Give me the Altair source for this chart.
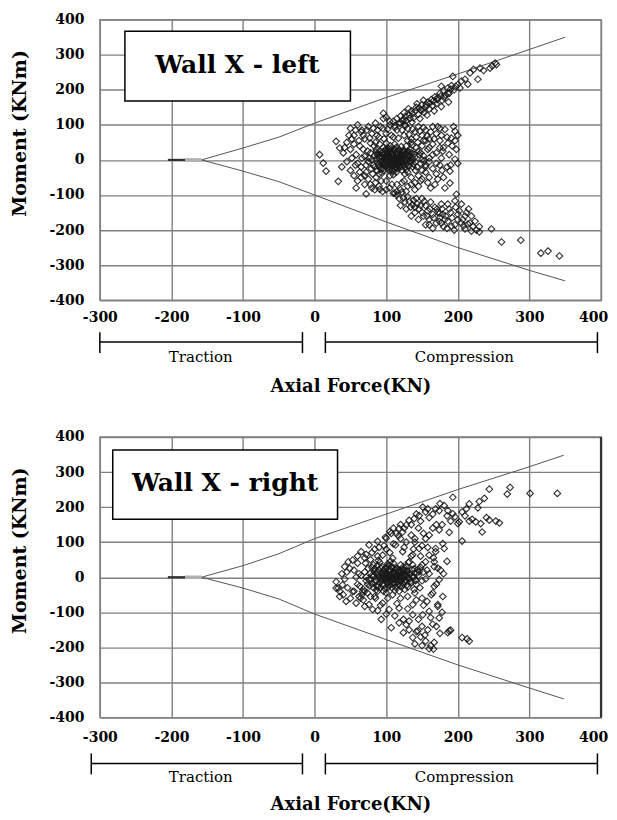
import altair as alt
import pandas as pd

# ---------------- data ----------------
X_TICKS = [-300, -200, -100, 0, 100, 200, 300, 400]
Y_TICKS = [-400, -300, -200, -100, 0, 100, 200, 300, 400]

# interaction-diagram envelope (upper / lower branch)
ENV_X_LEFT = [-158, -100, -50, 0, 100, 200, 300, 350]
ENV_UP_LEFT = [0, 34, 65, 105, 178, 245, 315, 350]
ENV_LO_LEFT = [0, -32, -62, -100, -177, -250, -315, -345]
ENV_X_RIGHT = [-158, -100, -50, 0, 100, 200, 300, 348]
ENV_UP_RIGHT = [0, 33, 67, 110, 180, 250, 315, 348]
ENV_LO_RIGHT = [0, -31, -62, -105, -178, -250, -316, -347]
STUB_DARK = [-205, -181]
STUB_LIGHT = [-181, -158]
RIGHT_FRAME_EDGE = [400]

# Wall X - left : (axial force, moment)
LEFT_CORE = [
    (70, 10), (75, -5), (78, 20), (80, 0), (82, -15), (84, 12), (86, 30), (88, -8), (90, 5), (92, -25),
    (93, 18), (95, -2), (96, 35), (98, 8), (99, -18), (100, 0), (101, 22), (102, -10), (103, 12), (104, -30),
    (105, 3), (106, 40), (107, -6), (108, 15), (109, -20), (110, 5), (111, 28), (112, -12), (113, 8), (114, -35),
    (115, 0), (116, 18), (117, -8), (118, 30), (119, -22), (120, 6), (121, -4), (122, 14), (124, -15), (125, 25),
    (126, 2), (128, -28), (130, 10), (132, -5), (135, 20), (138, -12), (140, 8), (143, -20), (146, 15), (150, 0),
    (74, 25), (79, -25), (83, 40), (87, -30), (91, 45), (94, -38), (97, 15), (100, -5), (103, 32), (106, -15),
    (109, 10), (112, 45), (115, -25), (118, 2), (121, 38), (124, -2), (127, 18), (131, -18), (134, 30), (137, 0),
    (141, -30), (145, 25), (148, -10), (152, 12), (155, -20), (97, -12), (101, 8), (104, -4), (107, 26), (111, -2),
    (113, 20), (116, -14), (119, 12), (122, -30), (100, 48), (110, -42), (90, -40), (85, 50), (128, 40), (65, -20),
    (68, 30), (72, -35), (160, 5), (158, 30), (95, 22), (108, -28), (114, 36), (102, -22), (92, 12), (120, 22),
    (126, -40), (88, 18), (76, 5), (81, -40), (105, -45), (130, -35), (136, 42), (142, 35), (148, 20), (153, -2),
]
LEFT_CORE_DENSE = [
    (86, 2), (88, 12), (89, -14), (91, 25), (92, -6), (94, 8), (95, -24), (96, 16), (97, -8), (98, 28),
    (99, 4), (100, -14), (101, 14), (102, -2), (103, 24), (104, -18), (105, 10), (106, -8), (107, 2), (108, 20),
    (109, -12), (110, 14), (111, -26), (112, 4), (113, -6), (114, 16), (115, -12), (116, 6), (117, 24), (118, -16),
    (119, -2), (120, 16), (121, -18), (122, 4), (123, 26), (124, -8), (125, 10), (126, -20), (127, 4), (128, 18),
    (129, -10), (130, 24), (131, 2), (132, -16), (133, 12), (134, -4), (136, 8), (137, -20), (139, 16), (141, -6),
    (106, 32), (110, -32), (100, 30), (114, -20), (118, 10), (96, -30), (104, -26), (112, 30), (122, -10), (90, -18),
    (84, -20), (86, 22), (94, -12), (102, 6), (108, -2), (116, -6), (120, -8), (124, 20), (128, -2), (132, 22),
]
LEFT_CLOUD = [
    (50, 90), (55, 70), (60, 100), (65, 80), (70, 60), (75, 95), (80, 75), (85, 105), (90, 65), (95, 90),
    (100, 75), (105, 100), (110, 65), (115, 85), (120, 105), (125, 70), (130, 90), (135, 60), (140, 80), (145, 95),
    (150, 70), (155, 85), (160, 60), (165, 95), (170, 75), (175, 90), (45, 50), (50, 30), (55, 45), (58, 15),
    (60, -10), (62, 55), (40, 20), (45, -5), (50, -30), (55, -45), (60, -60), (65, -50), (70, -70), (75, -55),
    (80, -80), (85, -65), (90, -75), (95, -90), (100, -60), (105, -80), (110, -95), (115, -70), (120, -85), (125, -60),
    (130, -75), (135, -50), (140, -65), (145, -45), (150, -55), (155, -35), (160, -50), (165, -25), (170, -40), (175, -15),
    (170, 20), (165, 45), (160, -5), (155, 55), (150, 40), (148, -60), (175, 55), (180, 35), (168, -70), (130, 55),
    (135, 50), (88, 85), (78, 48), (72, -15), (66, 5), (7, 15), (12, -9), (16, -32), (33, -61), (30, 53),
    (35, 34), (72, -97), (91, -84), (96, 133), (96, 118), (125, 115),
    (52, 60), (57, 85), (63, 40), (68, 70), (73, 85), (77, 62), (82, 90), (87, 70), (92, 95), (97, 60),
    (102, 88), (107, 70), (112, 92), (117, 62), (122, 85), (127, 98), (132, 72), (137, 88), (142, 65), (147, 82),
    (152, 92), (157, 68), (162, 80), (167, 60), (172, 95), (177, 70), (160, 35), (165, 15), (170, -10), (155, -15),
    (150, -30), (145, -75), (140, -85), (135, -70), (128, -90), (122, -65), (115, -90), (108, -70), (100, -85), (93, -60),
    (86, -50), (78, -70), (70, -45), (63, -35), (57, -15), (52, 5), (48, 70), (42, 35), (38, -20), (58, -80),
    (175, 35), (178, -30), (172, -55), (162, -80), (185, -20), (152, 55), (158, -65), (144, 50), (66, 85), (84, -85),
]
LEFT_BAND = [
    (182, 87), (196, 82), (191, 62), (186, 48), (198, 30), (179, 25), (177, 5), (196, 2), (189, -32), (189, -66),
    (182, -80), (198, -98), (200, 70), (194, 95), (188, 15), (200, -10), (185, 65), (192, 40), (180, -50), (196, 55),
    (190, -15),
]
LEFT_ARM = [
    (110, 110), (115, 118), (120, 125), (118, 105), (125, 135), (128, 112), (132, 128), (135, 140), (138, 120), (142, 150),
    (145, 130), (148, 142), (150, 158), (153, 135), (155, 150), (158, 165), (160, 145), (163, 172), (165, 155), (168, 180),
    (170, 160), (172, 178), (175, 190), (178, 170), (180, 198), (183, 185), (186, 205), (188, 190), (191, 212), (195, 200),
    (200, 215), (205, 225), (177, 210), (193, 238), (217, 248), (231, 262), (252, 276), (214, 216), (228, 230), (254, 272),
    (248, 268), (222, 258), (100, 122), (105, 110), (112, 98),
    (122, 112), (127, 125), (133, 118), (137, 132), (141, 140), (146, 148), (151, 144), (156, 158), (161, 162), (166, 168),
    (171, 172), (176, 182), (181, 178), (186, 190), (190, 202), (197, 210), (203, 205), (210, 230), (236, 255), (245, 262),
    (126, 100), (136, 108), (147, 118), (157, 128), (167, 140), (177, 152), (187, 165), (152, 170), (143, 160), (131, 146),
]
LEFT_LOWER = [
    (112, -95), (118, -110), (122, -92), (126, -120), (130, -105), (134, -135), (138, -115), (140, -150), (143, -125), (146, -140),
    (150, -110), (152, -160), (155, -130), (158, -145), (160, -170), (162, -120), (165, -155), (168, -135), (170, -180), (172, -150),
    (175, -165), (178, -140), (180, -190), (183, -160), (186, -175), (190, -150), (128, -140), (135, -160), (145, -170), (155, -185),
    (120, -130), (165, -195), (177, -126), (186, -126), (196, -117), (205, -126), (175, -152), (200, -155), (210, -160), (219, -160),
    (224, -175), (205, -180), (214, -183), (177, -180), (191, -189), (210, -197), (219, -203), (200, -170), (215, -140), (195, -200),
    (230, -190), (247, -197), (261, -234), (288, -229), (316, -266), (326, -260), (342, -274),
    (115, -100), (124, -108), (132, -118), (137, -128), (142, -110), (148, -130), (153, -118), (157, -160), (161, -140), (166, -165),
    (171, -140), (174, -175), (179, -155), (182, -170), (188, -140), (192, -165), (197, -135), (202, -145), (207, -170), (212, -150),
    (217, -180), (221, -190), (226, -200), (160, -185), (150, -150), (140, -135), (185, -195), (196, -185), (208, -188), (230, -205),
]

# Wall X - right : (axial force, moment)
RIGHT_CORE = [
    (60, -20), (65, 5), (68, -35), (70, 15), (72, -10), (75, 25), (77, -25), (80, 5), (82, 35), (84, -15),
    (86, 10), (88, -40), (90, 20), (92, -5), (94, 30), (95, -20), (97, 8), (98, -32), (100, 15), (101, -8),
    (102, 38), (104, 0), (105, -22), (106, 20), (108, -5), (109, 28), (110, -15), (111, 10), (112, -38), (114, 2),
    (115, 25), (116, -12), (118, 12), (119, -25), (120, 35), (122, 0), (123, -18), (125, 18), (127, -8), (128, 30),
    (130, -28), (132, 8), (134, -12), (136, 22), (138, -2), (140, 12), (142, -20), (145, 5), (148, 28), (150, -10),
    (62, 10), (66, -50), (71, 40), (74, -45), (79, -5), (83, 18), (87, -25), (91, 42), (93, -12), (96, 2),
    (99, 22), (103, -15), (107, 8), (110, 40), (113, -28), (117, 18), (121, -8), (124, 30), (126, -35), (129, 15),
    (133, -5), (137, 35), (141, -10), (144, 22), (147, -30), (152, 15), (155, -5), (78, -55), (85, -60), (58, 0),
    (55, -40), (64, -60), (89, 48), (100, -45), (106, 45), (118, -40), (131, 42), (139, -35), (157, 20), (95, 10),
    (103, 5), (108, -30), (112, 22), (116, -2), (101, 30), (97, -2), (119, 5), (92, -30), (126, 5), (86, -8),
]
RIGHT_CORE_DENSE = [
    (76, -6), (78, 12), (80, -18), (82, 4), (84, 24), (85, -10), (87, 16), (88, -28), (89, 6), (91, -16),
    (92, 26), (93, 0), (95, -8), (96, 20), (97, -22), (98, 12), (99, -4), (100, 26), (101, -16), (102, 8),
    (103, -28), (104, 18), (105, -2), (106, -12), (107, 28), (108, 6), (109, -20), (110, 16), (111, -6), (112, 10),
    (113, -16), (114, 24), (115, -4), (116, 8), (117, -22), (118, 20), (119, 0), (120, -12), (121, 14), (122, -26),
    (123, 6), (124, -4), (125, 22), (126, -14), (128, 8), (129, -22), (130, 18), (131, -2), (133, 10), (135, -16),
    (137, 4), (139, 24), (141, -8), (143, 12), (94, 12), (100, 0), (106, 4), (112, -2), (118, -8), (124, 12),
    (90, -2), (86, -36), (82, -30), (74, -20), (70, -40), (72, 0), (80, 28), (88, 34), (96, -40), (104, 34),
]
RIGHT_CLOUD = [
    (30, -13), (33, -31), (40, -50), (47, 44), (49, 25), (30, -31), (35, -55), (44, -69), (58, -74), (70, -83),
    (81, -92), (93, -120), (107, -144), (53, 49), (65, 73), (76, 92), (88, 102), (100, 111), (107, 125), (118, 139),
    (128, 149), (113, 92), (123, 73), (109, 54), (95, 63), (132, 44), (146, 82), (160, 63), (169, 82), (179, 96),
    (155, 44), (167, 30), (123, 21), (146, 16), (39, -22), (53, -41), (67, -41), (84, -55), (95, -74), (104, -92),
    (109, -50), (118, -88), (137, -78), (151, -107), (165, -134), (174, -116), (172, -78), (157, -69), (160, -97), (137, -107),
    (124, -120), (132, -125), (144, -153), (124, -158), (137, -172), (155, -182), (160, -204), (162, -195), (167, -186), (188, -153),
    (45, 15), (42, -5), (60, 60), (80, 70), (135, 60), (150, 35), (160, 10), (140, -45), (150, -60), (165, -45),
    (120, -60), (130, -55), (100, 80), (90, 85), (70, 55), (140, 100), (155, 110), (150, -140), (175, -160), (112, -110),
    (35, -40), (38, 10), (42, 30), (46, -30), (50, -60), (55, 20), (60, 40), (63, -25), (68, -65), (72, 65),
    (78, 50), (84, 80), (88, 60), (92, -80), (97, 90), (102, -60), (105, 70), (110, 95), (115, -75), (120, 110),
    (125, 85), (130, -90), (135, 120), (138, 80), (142, -65), (148, 60), (152, -80), (158, 85), (163, -50), (166, 55),
    (170, -20), (176, 20), (162, -115), (145, -120), (128, -135), (118, -130), (100, -105), (88, -95), (76, -78), (62, -55),
    (148, -170), (140, -190), (132, -150), (158, -150), (170, -140), (178, -100), (154, -165), (166, -205), (150, -195), (142, -155),
]
RIGHT_BAND = [
    (181, 82), (169, 73), (167, 44), (172, 26), (174, -7), (167, -26), (179, -55), (172, -83), (186, -158), (190, -151),
    (206, -172), (213, -176), (216, -182), (180, 10), (185, 45),
]
RIGHT_ARM = [
    (99, 114), (114, 125), (123, 129), (132, 162), (139, 167), (146, 176), (151, 200), (155, 186), (169, 195), (181, 204),
    (193, 228), (216, 209), (230, 216), (237, 225), (244, 251), (269, 237), (273, 256), (301, 239), (339, 239), (174, 190),
    (186, 190), (193, 181), (206, 186), (202, 158), (216, 160), (225, 158), (232, 153), (244, 163), (253, 160), (258, 155),
    (234, 129), (206, 103), (200, 153), (174, 135), (188, 128), (137, 64), (150, 90), (160, 120), (170, 150), (128, 100),
    (145, 140), (160, 170), (120, 150), (110, 140), (190, 160),
    (105, 130), (117, 118), (125, 140), (135, 150), (142, 180), (148, 160), (158, 195), (165, 180), (175, 210), (185, 175),
    (196, 172), (210, 175), (220, 165), (240, 170), (228, 198), (212, 195), (178, 150), (165, 140), (152, 125), (140, 110),
]

# label boxes: x0, x1, m0, m1, text x, text m
BOX_LEFT = (-265, 50, 168, 367, -108, 270)
BOX_RIGHT = (-282, 32, 165, 363, -125, 270)

# bracket annotations under the x axis
BRACKETS_LEFT = [(-300, -17, "Traction", -159), (15, 395, "Compression", 209)]
BRACKETS_RIGHT = [(-312, -17, "Traction", -159), (15, 395, "Compression", 209)]

# ---------------- chart ----------------
W = 502
FONT = "DejaVu Serif"

xs = alt.Scale(domain=[-300, 400], nice=False, zero=False)
ys = alt.Scale(domain=[-400, 400], nice=False, zero=False)

# per-panel vertical layout (pixels below the plot bottom)
LAYOUT_TOP = dict(H=281, label_pad=10, bar=42, tick0=32, tick1=53, text=57, title=86)
LAYOUT_BOT = dict(H=281, label_pad=13, bar=46, tick0=36, tick1=57, text=60, title=87)


def panel(points, env_x, env_up, env_lo, box, brackets, label, L, dark_edge):
    H = L["H"]
    x_axis = alt.Axis(values=X_TICKS, title="Axial Force(KN)", grid=True, labelFlush=False,
                      labelExpr="'' + datum.value",
                      labelOffset={"condition": {"test": "datum.value == 400", "value": -8}, "value": 0},
                      labelPadding=L["label_pad"], titleY=L["title"], titleBaseline="middle")
    y_axis = alt.Axis(values=Y_TICKS, title="Moment (KNm)", grid=True, labelFlush=False,
                      labelExpr="'' + datum.value",
                      labelPadding=16, titleX=-80, titleY=H / 2 - 27, titleBaseline="middle",
                      titleFontSize=19)

    def ex(field):
        return alt.X(field, type="quantitative", scale=xs, axis=x_axis)

    def ey(field):
        return alt.Y(field, type="quantitative", scale=ys, axis=y_axis)

    pts = pd.DataFrame(points, columns=["x", "m"])
    env = pd.DataFrame(
        [{"x": a, "m": b, "side": "up"} for a, b in zip(env_x, env_up)]
        + [{"x": a, "m": b, "side": "lo"} for a, b in zip(env_x, env_lo)]
    )
    stubs_d = pd.DataFrame({"x": [STUB_DARK[0]], "x2": [STUB_DARK[1]], "m": [0]})
    stubs_l = pd.DataFrame({"x": [STUB_LIGHT[0]], "x2": [STUB_LIGHT[1]], "m": [0]})
    bx = pd.DataFrame({"x": [box[0]], "x2": [box[1]], "m": [box[2]], "m2": [box[3]],
                       "tx": [box[4]], "tm": [box[5]], "label": [label]})
    br = pd.DataFrame(brackets, columns=["x", "x2", "label", "tx"])
    ends = pd.DataFrame({"x": [v for b in brackets for v in (b[0], b[1])]})

    lines = alt.Chart(env).mark_line(color="#555555", strokeWidth=1).encode(
        x=ex("x"), y=ey("m"), detail="side:N", order="x:Q")
    stub1 = alt.Chart(stubs_l).mark_rule(color="#b0b0b0", strokeWidth=3.5).encode(
        x=ex("x"), x2="x2", y=ey("m"))
    stub2 = alt.Chart(stubs_d).mark_rule(color="#333333", strokeWidth=2.2).encode(
        x=ex("x"), x2="x2", y=ey("m"))
    rect = alt.Chart(bx).mark_rect(fill="white", stroke="black", strokeWidth=1.5).encode(
        x=ex("x"), x2="x2", y=ey("m"), y2="m2")
    rtext = alt.Chart(bx).mark_text(font=FONT, fontWeight="bold", fontSize=25, color="black",
                                    baseline="middle", align="center").encode(
        x=ex("tx"), y=ey("tm"), text="label:N")
    dots = alt.Chart(pts).mark_point(shape="diamond", filled=False, size=44, strokeWidth=1.1,
                                     color="#1a1a1a", opacity=0.9).encode(x=ex("x"), y=ey("m"))
    hbar = alt.Chart(br).mark_rule(color="black", strokeWidth=1.5).encode(
        x=ex("x"), x2="x2", y=alt.value(H + L["bar"]))
    vend = alt.Chart(ends).mark_rule(color="black", strokeWidth=1.5).encode(
        x=ex("x"), y=alt.value(H + L["tick0"]), y2=alt.value(H + L["tick1"]))
    btext = alt.Chart(br).mark_text(font=FONT, fontSize=15, color="black", baseline="middle",
                                    align="center").encode(
        x=ex("tx"), y=alt.value(H + L["text"]), text="label:N")

    layers = [lines, stub1, stub2, rect, rtext, dots, hbar, vend, btext]
    if dark_edge:
        edge = alt.Chart(pd.DataFrame({"x": RIGHT_FRAME_EDGE})).mark_rule(
            color="#333333", strokeWidth=2.2).encode(x=ex("x"), y=alt.value(0), y2=alt.value(H))
        layers.append(edge)
    return alt.layer(*layers).properties(width=W, height=H)


top = panel(LEFT_CORE + LEFT_CORE_DENSE + LEFT_CLOUD + LEFT_BAND + LEFT_ARM + LEFT_LOWER,
            ENV_X_LEFT, ENV_UP_LEFT, ENV_LO_LEFT, BOX_LEFT, BRACKETS_LEFT, "Wall X - left",
            LAYOUT_TOP, False)
bottom = panel(RIGHT_CORE + RIGHT_CORE_DENSE + RIGHT_CLOUD + RIGHT_BAND + RIGHT_ARM,
               ENV_X_RIGHT, ENV_UP_RIGHT, ENV_LO_RIGHT, BOX_RIGHT, BRACKETS_RIGHT, "Wall X - right",
               LAYOUT_BOT, True)

chart = alt.vconcat(top, bottom, spacing=33).properties(
    padding={"left": 2, "top": 3, "right": 0, "bottom": 0}
).configure_view(
    stroke="#808080", strokeWidth=1.4
).configure_axis(
    labelFont=FONT, labelFontWeight="bold", labelFontSize=14, labelColor="black",
    titleFont=FONT, titleFontWeight="bold", titleFontSize=18, titleColor="black",
    gridColor="#808080", gridWidth=1.4, gridOpacity=1, ticks=False, domain=False,
)

chart.save("out.html", embed_options={"renderer": "svg", "actions": False})
